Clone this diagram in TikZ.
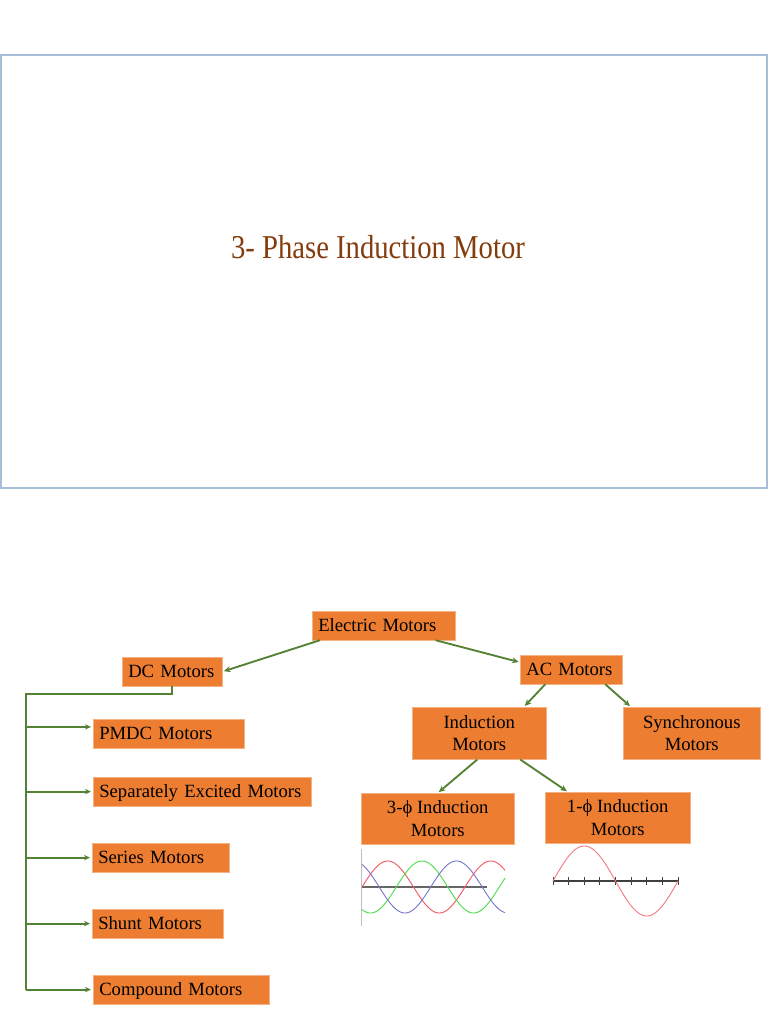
\documentclass[tikz,border=0pt]{standalone}
\usepackage{fontspec}
\setmainfont{Liberation Serif}
\usepackage{tikz}
\usetikzlibrary{calc,arrows.meta}
\definecolor{boxorange}{RGB}{237,125,49}
\definecolor{boxedge}{RGB}{244,177,131}
\definecolor{linkgreen}{RGB}{84,130,53}
\definecolor{titlebrown}{RGB}{132,60,12}
\definecolor{framblue}{RGB}{166,189,215}
\definecolor{wavered}{RGB}{240,90,100}
\definecolor{wavegreen}{RGB}{80,220,80}
\definecolor{waveblue}{RGB}{120,120,200}
\tikzset{
  motorbox/.style={anchor=north west, fill=boxorange, draw=boxedge, line width=0.4pt, inner xsep=4.5pt,
    font=\fontsize{14}{17}\selectfont, text height=9.5pt, text depth=0.5pt, minimum height=21.5pt, align=left},
  twobox/.style={anchor=north west, fill=boxorange, draw=boxedge, line width=0.4pt,
    font=\fontsize{14}{17}\selectfont, align=center},
  link/.style={draw=linkgreen, line width=1.4pt},
  linkarrow/.style={link, -{Stealth[length=5pt,width=4.5pt]}, shorten >=1pt},
  busarrow/.style={draw=linkgreen, line width=1.4pt, -{Stealth[length=4.5pt,width=4pt]}, shorten >=1.5pt}
}
\begin{document}
\begin{tikzpicture}[x=0.75pt,y=-0.75pt]
\useasboundingbox (0,0) rectangle (768,1024);
% title slide
\draw[framblue, line width=1.1pt] (1,55) rectangle (767,488);
\node[text=titlebrown] (title) at (378,247) {\fontsize{25}{30}\selectfont\scalebox{0.86}[1]{3- Phase Induction Motor}};
% tree of motors
\node[motorbox, text width=98.25pt] (elec) at (312,611) {Electric Motors};
\node[motorbox, text width=66pt] (dc) at (122,657) {DC Motors};
\node[motorbox, text width=67.5pt] (ac) at (520,655) {AC Motors};
\node[twobox, minimum width=100.5pt, minimum height=39pt] (ind) at (412,707) {Induction\\Motors};
\node[twobox, minimum width=102.75pt, minimum height=39pt] (syn) at (623,707) {Synchronous\\Motors};
\node[twobox, minimum width=114.75pt, minimum height=38.25pt] (three) at (361,793) {3-ϕ Induction\\Motors};
\node[twobox, minimum width=108.75pt, minimum height=38.25pt] (one) at (545,792) {1-ϕ Induction\\Motors};
\node[motorbox, text width=104.25pt] (pmdc) at (93,719) {PMDC Motors};
\node[motorbox, text width=154.5pt] (sep) at (93,777) {Separately Excited Motors};
\node[motorbox, text width=93.75pt] (ser) at (92,843) {Series Motors};
\node[motorbox, text width=89.25pt] (shu) at (92,909) {Shunt Motors};
\node[motorbox, text width=123pt] (com) at (93,975) {Compound Motors};
\draw[linkarrow] ([xshift=6pt]elec.south west) -- (dc.east);
\draw[linkarrow] ([xshift=-15pt]elec.south east) -- ($(ac.north west)!0.25!(ac.south west)$);
\draw[linkarrow] ([xshift=-19.5pt]ac.south) -- ([xshift=-17pt]ind.north east);
\draw[linkarrow] ([xshift=25.5pt]ac.south) -- ([xshift=6pt]syn.north west);
\draw[linkarrow] ([xshift=-1.5pt]ind.south) -- (three.north);
\draw[linkarrow] ([xshift=30.75pt]ind.south) -- ([xshift=17.25pt]one.north west);
% DC bus
\coordinate (bustop) at (26,694);
\coordinate (pmdcin) at ([yshift=5pt]pmdc.west);
\draw[draw=linkgreen, line width=1.2pt] (dc.south) |- (bustop) -- (bustop |- com.west);
\draw[busarrow] (bustop |- pmdcin) -- (pmdcin);
\foreach \m in {sep,ser,shu,com}
  \draw[busarrow] (bustop |- \m.west) -- (\m.west);
% three phase waves
\draw[black!25, line width=0.6pt] (361,849) -- (361,926);
\draw[black!60, line width=0.8pt] (362,887) -- (487,887);
\draw[wavered, line width=0.7pt] plot[domain=362:505, samples=120] (\x, {887-26*sin(3.4951*(\x-362))});
\draw[wavegreen, line width=0.7pt] plot[domain=362:505, samples=120] (\x, {887-26*sin(3.4951*(\x-396.3))});
\draw[waveblue, line width=0.7pt] plot[domain=362:505, samples=120] (\x, {887-26*sin(3.4951*(\x-327.7))});
% single phase wave
\draw[black!75, line width=0.8pt] (553,881) -- (678,881);
\foreach \k in {0,...,8}
  \draw[black!75, line width=0.6pt] (553+\k*15.625,877) -- (553+\k*15.625,885);
\draw[wavered!80, line width=0.7pt] plot[domain=553:678, samples=120] (\x, {881-35*sin(2.88*(\x-553))});
\end{tikzpicture}
\end{document}
